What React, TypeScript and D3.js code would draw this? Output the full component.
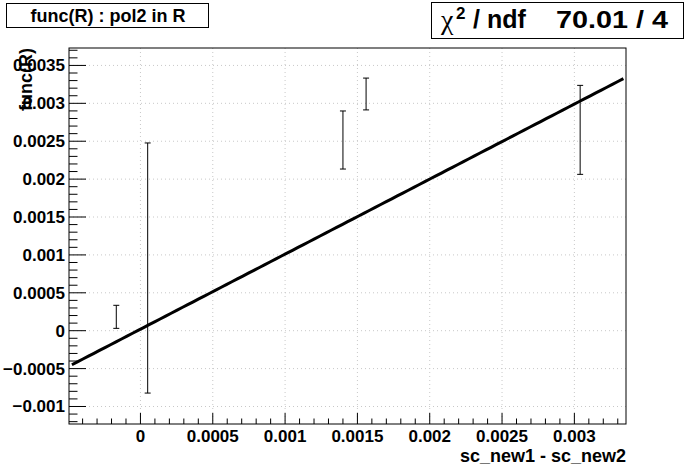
import React from 'react';
import * as d3 from 'd3';

// measured points (error bars only, no markers)
const xValues = [-0.000167, 0.00005, 0.0014, 0.00156, 0.00304];
const yValues = [0.000183, 0.000827, 0.002516, 0.003123, 0.00265];
const yErrors = [0.000152, 0.00165, 0.000383, 0.00021, 0.000587];

// pol2 fit parameters and range
const fitParams = [0.00002, 0.99, 0];
const fitRange = [-0.000474, 0.003339];

const xTicks = [0, 0.0005, 0.001, 0.0015, 0.002, 0.0025, 0.003];
const xTickLabels = ['0', '0.0005', '0.001', '0.0015', '0.002', '0.0025', '0.003'];
const yTicks = [-0.001, -0.0005, 0, 0.0005, 0.001, 0.0015, 0.002, 0.0025, 0.003, 0.0035];
const yTickLabels = ['\u22120.001', '\u22120.0005', '0', '0.0005', '0.001', '0.0015', '0.002', '0.0025', '0.003', '0.0035'];

const titleText = 'func(R) : pol2 in R';
const xTitle = 'sc_new1 - sc_new2';
const yTitle = 'func(R)';
const chi2 = '70.01 / 4';

const W = 696;
const H = 472;
const frame = { left: 69, right: 626, top: 48, bottom: 424 };
const font = '"Liberation Sans", Arial, Helvetica, sans-serif';

const App = () => {
  const x = d3.scaleLinear().domain([-0.000494, 0.003357]).range([frame.left, frame.right]);
  const y = d3.scaleLinear().domain([-0.001231, 0.00373]).range([frame.bottom, frame.top]);

  const minorStep = 0.0001;
  const xMinor = d3.range(Math.ceil(x.domain()[0] / minorStep), Math.floor(x.domain()[1] / minorStep) + 1)
    .map(i => i * minorStep);
  const yMinor = d3.range(Math.ceil(y.domain()[0] / minorStep), Math.floor(y.domain()[1] / minorStep) + 1)
    .map(i => i * minorStep);

  const fit = (v: number) => fitParams[0] + fitParams[1] * v + fitParams[2] * v * v;
  const fitPts = d3.range(0, 101).map(i => fitRange[0] + (fitRange[1] - fitRange[0]) * i / 100);
  const line = d3.line<number>().x(v => x(v)).y(v => y(fit(v)));

  const capHalf = 3;

  return (
    <svg width={W} height={H} style={{ position: 'fixed', left: 0, top: 0, background: '#fff' }}
      fontFamily={font} fontWeight="bold">
      <rect x={0} y={0} width={W} height={H} fill="#fff" />

      {/* grid */}
      {xTicks.map(t => (
        <line key={'gx' + t} x1={x(t)} x2={x(t)} y1={frame.top} y2={frame.bottom}
          stroke="#c8c8c8" strokeDasharray="1,3" />
      ))}
      {yTicks.map(t => (
        <line key={'gy' + t} x1={frame.left} x2={frame.right} y1={y(t)} y2={y(t)}
          stroke="#c8c8c8" strokeDasharray="1,3" />
      ))}

      {/* ticks */}
      {xMinor.map((t, i) => {
        const major = xTicks.some(m => Math.abs(m - t) < 1e-9);
        return <line key={'tx' + i} x1={x(t)} x2={x(t)} y1={frame.bottom} y2={frame.bottom - (major ? 11 : 5.5)}
          stroke="#000" />;
      })}
      {yMinor.map((t, i) => {
        const major = yTicks.some(m => Math.abs(m - t) < 1e-9);
        return <line key={'ty' + i} x1={frame.left} x2={frame.left + (major ? 17 : 8.5)} y1={y(t)} y2={y(t)}
          stroke="#000" />;
      })}

      {/* frame */}
      <rect x={frame.left} y={frame.top} width={frame.right - frame.left} height={frame.bottom - frame.top}
        fill="none" stroke="#000" />

      {/* tick labels */}
      {xTicks.map((t, i) => (
        <text key={'lx' + t} x={x(t)} y={442} textAnchor="middle" fontSize={17}>{xTickLabels[i]}</text>
      ))}
      {yTicks.map((t, i) => (
        <text key={'ly' + t} x={65} y={y(t) + 6} textAnchor="end" fontSize={17}>{yTickLabels[i]}</text>
      ))}

      {/* axis titles */}
      <text x={frame.right} y={462} textAnchor="end" fontSize={18}>{xTitle}</text>
      <text transform={`translate(32, ${frame.top}) rotate(-90)`} textAnchor="end" fontSize={18}>{yTitle}</text>

      {/* error bars */}
      {xValues.map((xv, i) => {
        const cx = x(xv);
        const y1 = y(yValues[i] + yErrors[i]);
        const y2 = y(yValues[i] - yErrors[i]);
        return (
          <g key={'e' + i} stroke="#000">
            <line x1={cx} x2={cx} y1={y1} y2={y2} />
            <line x1={cx - capHalf} x2={cx + capHalf} y1={y1} y2={y1} />
            <line x1={cx - capHalf} x2={cx + capHalf} y1={y2} y2={y2} />
          </g>
        );
      })}

      {/* fit */}
      <path d={line(fitPts) || ''} fill="none" stroke="#000" strokeWidth={3} />

      {/* title box */}
      <rect x={6.5} y={3.5} width={202} height={24} fill="#fff" stroke="#000" />
      <text x={108} y={22} textAnchor="middle" fontSize={18}>{titleText}</text>

      {/* stats box */}
      <rect x={431.5} y={2.5} width={252} height={36} fill="#fff" stroke="#000" />
      <text x={441} y={29} fontSize={28} fontWeight="normal"
        fontFamily='"Liberation Serif", "Times New Roman", serif'>{'\u03c7'}</text>
      <text x={456} y={19} fontSize={17}>2</text>
      <text x={473} y={28} fontSize={25}>/ ndf</text>
      <text x={556} y={28} fontSize={24} textLength={112} lengthAdjust="spacingAndGlyphs">{chi2}</text>
    </svg>
  );
};

export default App;
